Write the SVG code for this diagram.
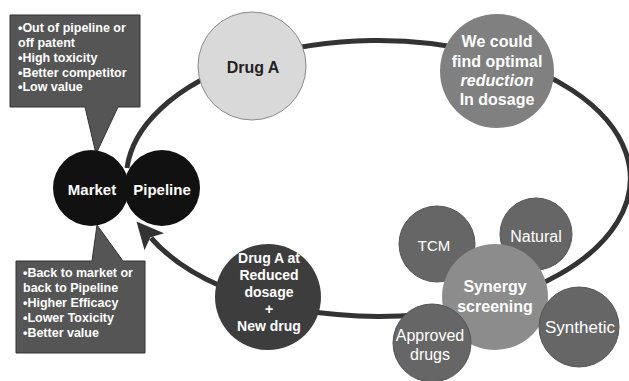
<svg xmlns="http://www.w3.org/2000/svg" width="629" height="381" viewBox="0 0 629 381">
<defs>
<style>
.b{font-family:"Liberation Sans",Arial,sans-serif;font-weight:bold;fill:#fff}
.r{font-family:"Liberation Sans",Arial,sans-serif;fill:#fff}
.call{fill:#555;stroke:#333;stroke-width:1}
.c{text-anchor:middle}
.t{font-size:12.5px}
.loop{fill:none;stroke:#333;stroke-width:5}
.sat{fill:#666;stroke:#555;stroke-width:1}
</style>
<marker id="ah" markerUnits="userSpaceOnUse" viewBox="-10 -16 36 32" markerWidth="36" markerHeight="32" refX="0" refY="0" orient="auto">
<path d="M22,0 L-5,-13 L1,0 L-5,13 Z" fill="#333"/>
</marker>
</defs>
<rect width="629" height="381" fill="#fff"/>
<g id="connectors">
<path class="loop" d="M127,168 A252,138 0 1 1 151,238" marker-end="url(#ah)"/>
</g>
<g id="callout-top">
<path class="call" d="M10,15 H140 V107 H118 L96,154 L85,107 H10 Z"/>
<text class="b t" x="18" y="32">•Out of pipeline or</text>
<text class="b t" x="18" y="47">off patent</text>
<text class="b t" x="18" y="62">•High toxicity</text>
<text class="b t" x="18" y="77">•Better competitor</text>
<text class="b t" x="18" y="91">•Low value</text>
</g>
<g id="callout-bottom">
<path class="call" d="M16,261 H92 L97,225 L123,261 H145 V353 H16 Z"/>
<text class="b t" x="23" y="277">•Back to market or</text>
<text class="b t" x="23" y="292">back to Pipeline</text>
<text class="b t" x="23" y="307">•Higher Efficacy</text>
<text class="b t" x="23" y="322">•Lower Toxicity</text>
<text class="b t" x="23" y="337">•Better value</text>
</g>
<g id="market">
<circle cx="91" cy="188" r="38" fill="#111"/>
<text class="b c" font-size="15" x="92" y="195">Market</text>
</g>
<g id="pipeline">
<circle cx="162" cy="188" r="38" fill="#111"/>
<text class="b c" font-size="15" x="162" y="195">Pipeline</text>
</g>
<g id="drug-a">
<circle cx="252" cy="66" r="54" fill="#d9d9d9" stroke="#8a8a8a" stroke-width="1"/>
<text class="b c" font-size="16" x="253" y="73" style="fill:#222">Drug A</text>
</g>
<g id="optimal-reduction">
<circle cx="497" cy="71" r="57" fill="#808080"/>
<text class="b c" font-size="16" x="497" y="47">We could</text>
<text class="b c" font-size="16" x="497" y="67">find optimal</text>
<text class="b c" font-size="16" x="497" y="86" font-style="italic">reduction</text>
<text class="b c" font-size="16" x="497" y="105">In dosage</text>
</g>
<g id="reduced-dosage">
<circle cx="268" cy="297" r="53" fill="#3d3d3d"/>
<text class="b c" font-size="14" x="269" y="263">Drug A at</text>
<text class="b c" font-size="14" x="269" y="280">Reduced</text>
<text class="b c" font-size="14" x="269" y="297">dosage</text>
<text class="b c" font-size="14" x="269" y="314">+</text>
<text class="b c" font-size="14" x="269" y="331">New drug</text>
</g>
<g id="tcm">
<circle class="sat" cx="437" cy="244" r="38"/>
<text class="r c" font-size="15" x="434" y="251">TCM</text>
</g>
<g id="natural">
<circle class="sat" cx="536" cy="234" r="36"/>
<text class="r c" font-size="16" x="536" y="242">Natural</text>
</g>
<g id="synergy">
<circle cx="495" cy="297" r="53" fill="#8c8c8c"/>
<text class="b c" font-size="16" x="495" y="292">Synergy</text>
<text class="b c" font-size="16" x="495" y="312">screening</text>
</g>
<g id="approved">
<circle class="sat" cx="432" cy="343" r="39"/>
<text class="r c" font-size="16" x="430" y="341">Approved</text>
<text class="r c" font-size="16" x="430" y="360">drugs</text>
</g>
<g id="synthetic">
<circle class="sat" cx="579" cy="327" r="40"/>
<text class="r c" font-size="17" x="580" y="333">Synthetic</text>
</g>
</svg>
